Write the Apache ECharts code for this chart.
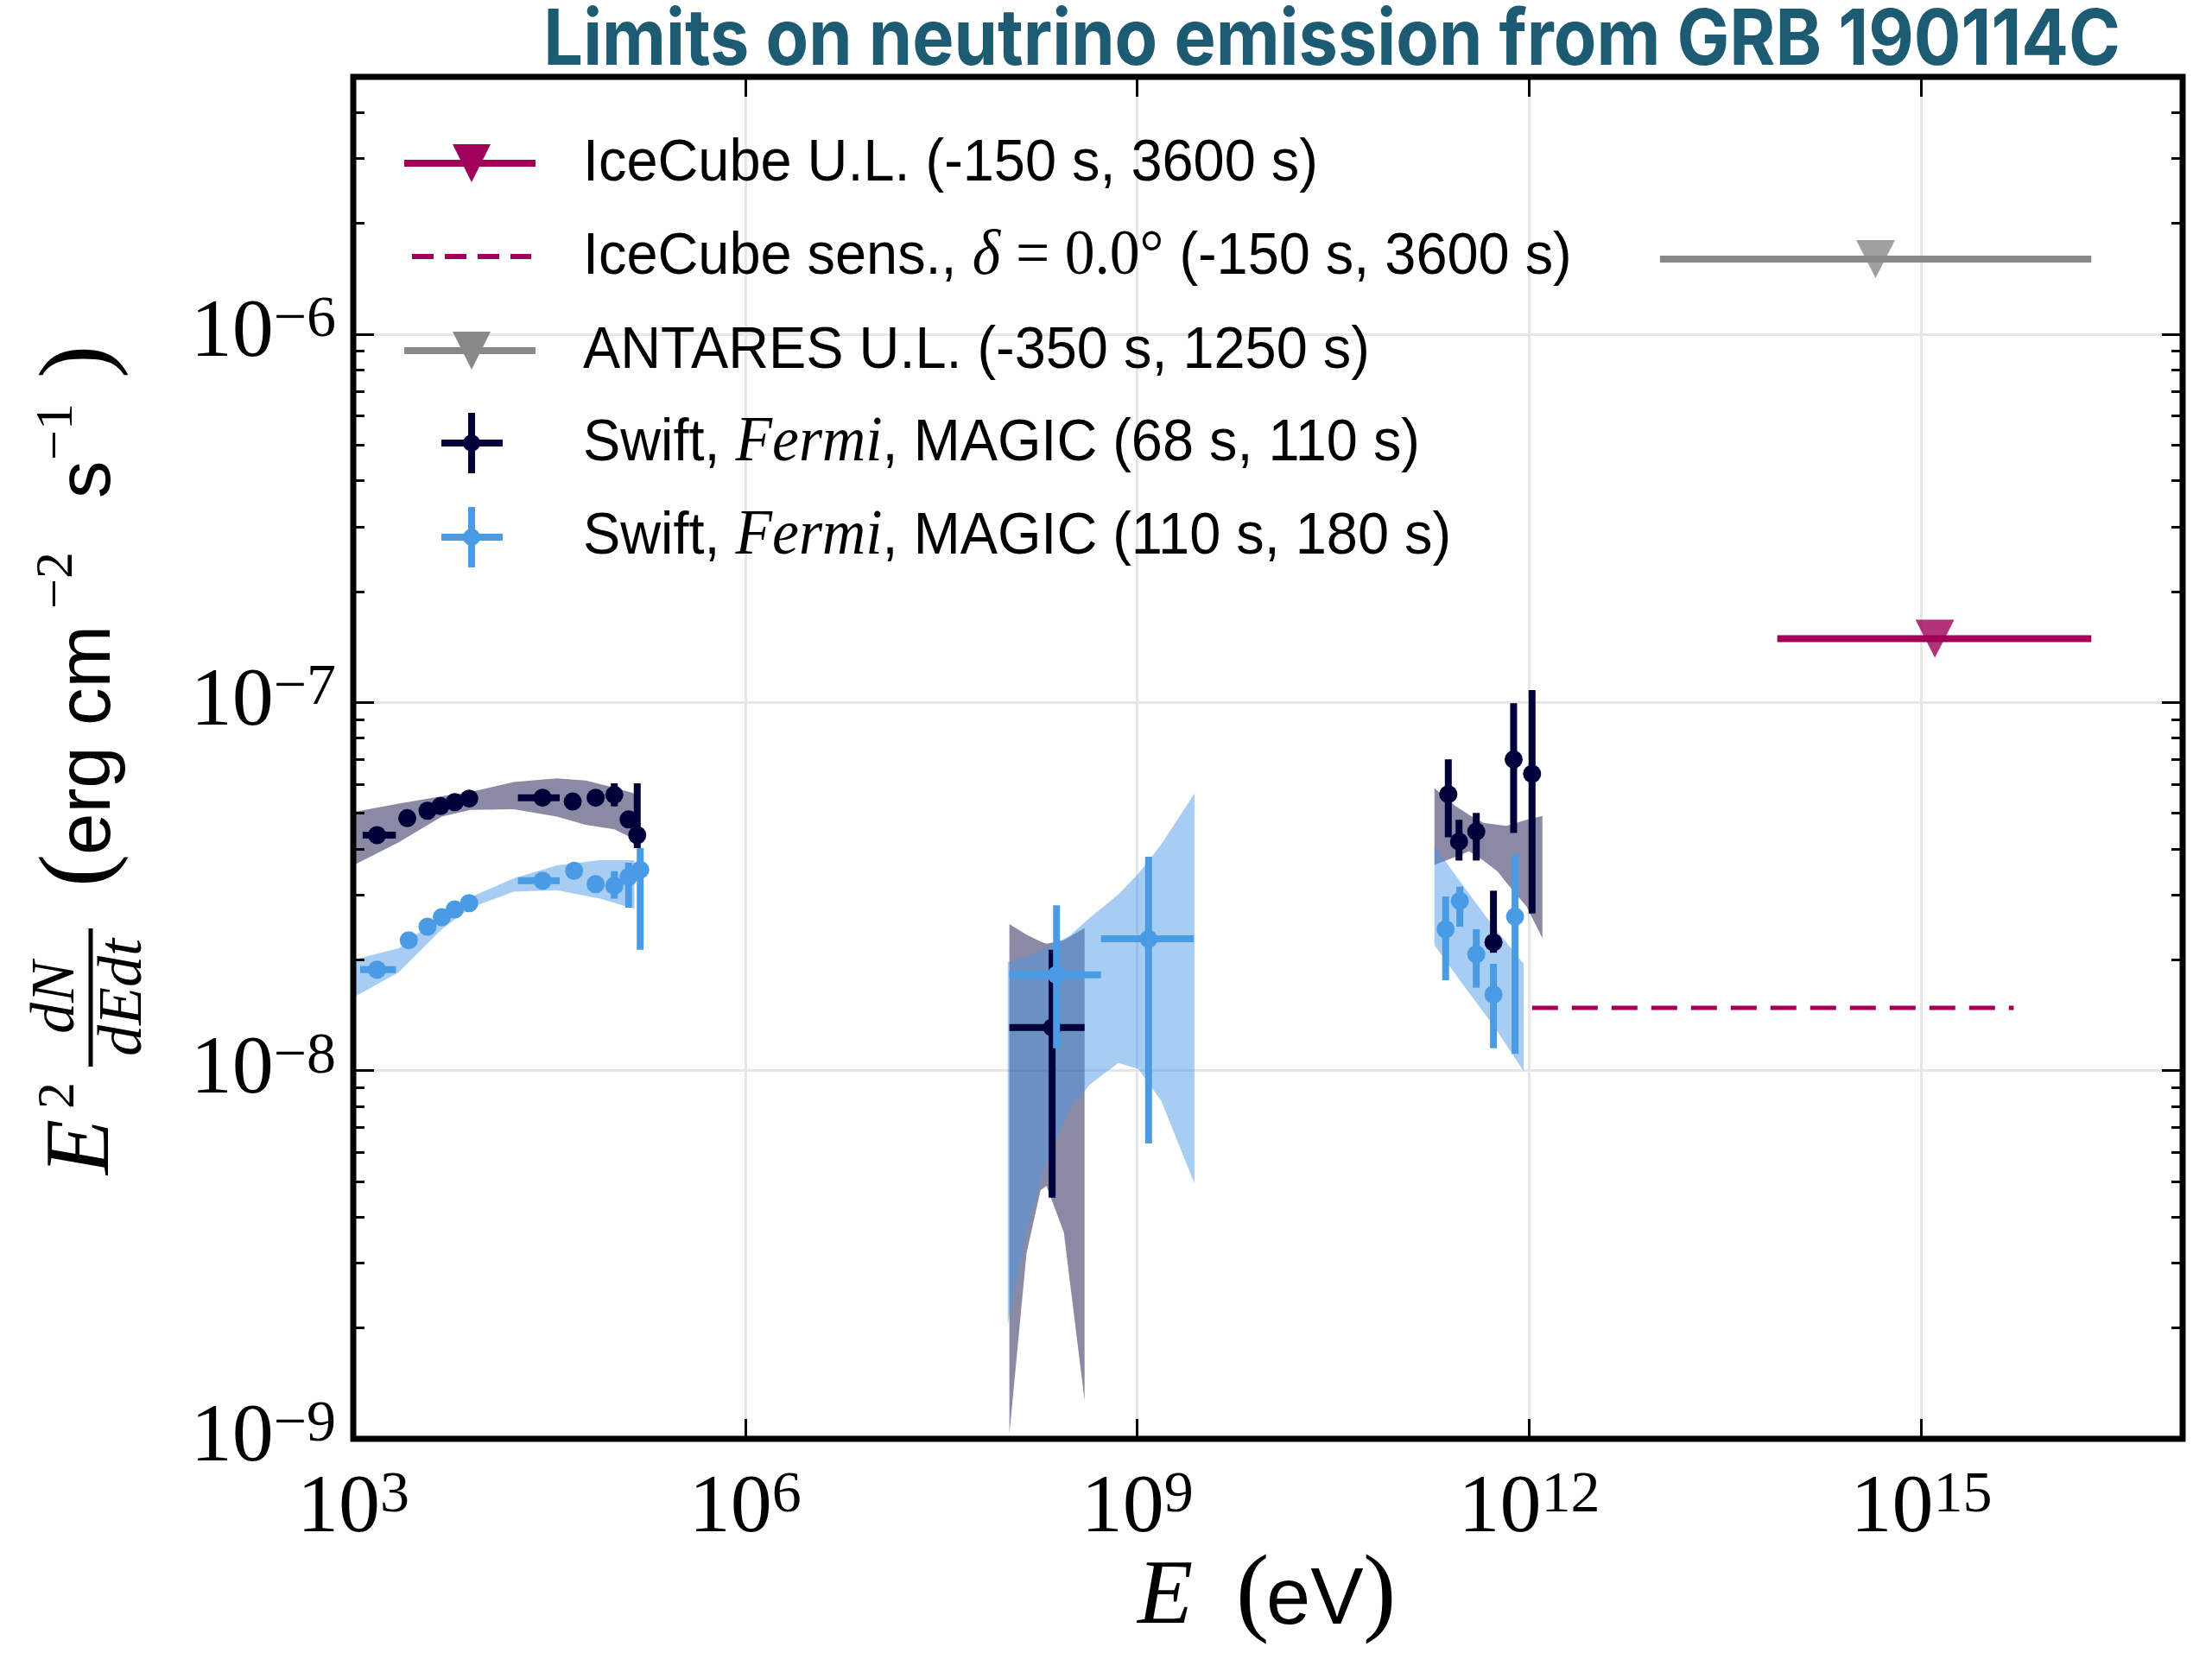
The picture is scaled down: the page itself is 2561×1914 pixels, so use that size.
<!DOCTYPE html>
<html><head><meta charset="utf-8">
<script src="https://cdn.jsdelivr.net/npm/echarts@6/dist/echarts.min.js"></script>
<style>html,body{margin:0;padding:0;background:#fff}#c{width:2561px;height:1914px}</style>
</head><body><div id="c"></div>
<script>
// ---------- tick values ----------
const xTicks = [1e3, 1e6, 1e9, 1e12, 1e15];
const yTicks = [1e-9, 1e-8, 1e-7, 1e-6];
const yMinorTicks = [2e-9,3e-9,4e-9,5e-9,6e-9,7e-9,8e-9,9e-9,
                     2e-8,3e-8,4e-8,5e-8,6e-8,7e-8,8e-8,9e-8,
                     2e-7,3e-7,4e-7,5e-7,6e-7,7e-7,8e-7,9e-7,
                     2e-6,3e-6,4e-6];

// ---------- Swift, Fermi, MAGIC (68 s, 110 s) ----------
const p68E   = [1.52e3, 2.59e3, 3.70e3, 4.65e3, 5.98e3, 7.71e3, 2.81e4, 4.78e4, 7.16e4, 9.95e4, 1.28e5, 1.49e5, 2.23e8, 2.40e11, 2.90e11, 3.93e11, 5.32e11, 7.59e11, 1.05e12];
const p68F   = [4.36e-8, 4.85e-8, 5.08e-8, 5.23e-8, 5.36e-8, 5.48e-8, 5.51e-8, 5.38e-8, 5.51e-8, 5.61e-8, 4.81e-8, 4.36e-8, 1.31e-8, 5.63e-8, 4.19e-8, 4.46e-8, 2.23e-8, 7.0e-8, 6.4e-8];
const p68ELo = [1.18e3, null, null, null, null, null, 1.82e4, null, null, null, null, null, 1.05e8, null, null, null, null, null, null];
const p68EHi = [2.12e3, null, null, null, null, null, 3.80e4, null, null, null, null, null, 3.95e8, null, null, null, null, null, null];
const p68FLo = [null, null, null, null, null, null, null, null, null, 5.22e-8, null, 4.02e-8, 4.52e-9, 4.3e-8, 3.72e-8, 3.72e-8, 2.09e-8, 4.42e-8, 2.67e-8];
const p68FHi = [null, null, null, null, null, null, null, null, null, 6.03e-8, null, 6.03e-8, 2.13e-8, 7.0e-8, 4.80e-8, 5.01e-8, 3.08e-8, 9.95e-8, 1.08e-7];

// ---------- Swift, Fermi, MAGIC (110 s, 180 s) ----------
const p110E   = [1.52e3, 2.66e3, 3.70e3, 4.76e3, 5.98e3, 7.71e3, 2.81e4, 4.90e4, 7.16e4, 9.95e4, 1.28e5, 1.57e5, 2.41e8, 1.22e9, 2.29e11, 2.94e11, 3.93e11, 5.32e11, 7.78e11];
const p110F   = [1.88e-8, 2.26e-8, 2.46e-8, 2.61e-8, 2.74e-8, 2.85e-8, 3.28e-8, 3.49e-8, 3.21e-8, 3.18e-8, 3.36e-8, 3.51e-8, 1.82e-8, 2.28e-8, 2.42e-8, 2.89e-8, 2.07e-8, 1.61e-8, 2.62e-8];
const p110ELo = [1.13e3, null, null, null, null, null, 1.82e4, null, null, null, null, null, 1.05e8, 5.28e8, null, null, null, null, null];
const p110EHi = [2.12e3, null, null, null, null, null, 3.80e4, null, null, null, null, null, 5.28e8, 2.70e9, null, null, null, null, null];
const p110FLo = [null, null, null, null, null, null, null, null, null, 2.93e-8, 2.77e-8, 2.13e-8, 1.15e-8, 6.34e-9, 1.76e-8, 2.46e-8, 1.68e-8, 1.15e-8, 1.11e-8];
const p110FHi = [null, null, null, null, null, null, null, null, null, 3.48e-8, 3.67e-8, 4.02e-8, 2.81e-8, 3.81e-8, 2.97e-8, 3.16e-8, 2.42e-8, 1.95e-8, 3.86e-8];

// ---------- model bands (68 s, 110 s) ----------
const b68XE = [1e3, 2.23e3, 4.76e3, 7.91e3, 1.69e4, 3.61e4, 6.0e4, 9.95e4, 1.42e5];
const b68XU = [5.04e-8, 5.31e-8, 5.56e-8, 5.71e-8, 6.08e-8, 6.22e-8, 6.14e-8, 5.87e-8, 5.66e-8];
const b68XL = [3.61e-8, 4.17e-8, 4.90e-8, 5.11e-8, 5.13e-8, 4.90e-8, 4.65e-8, 4.52e-8, 4.25e-8];
const b68LE = [1.05e8, 1.42e8, 1.82e8, 2.02e8, 2.74e8, 3.95e8];
const b68LU = [2.50e-8, 2.34e-8, 2.24e-8, 2.21e-8, 2.26e-8, 2.44e-8];
const b68LL = [1.03e-9, 3.19e-9, 4.74e-9, 4.86e-9, 3.64e-9, 1.27e-9];
const b68ME = [1.88e11, 2.69e11, 3.46e11, 4.46e11, 5.74e11, 6.68e11, 9.53e11, 1.26e12];
const b68MU = [5.85e-8, 5.25e-8, 4.95e-8, 4.71e-8, 4.65e-8, 4.62e-8, 4.80e-8, 4.92e-8];
const b68ML = [3.62e-8, 3.80e-8, 3.94e-8, 3.72e-8, 3.47e-8, 3.24e-8, 2.79e-8, 2.29e-8];

// ---------- model bands (110 s, 180 s) ----------
const b110XE = [1e3, 2.23e3, 4.76e3, 7.91e3, 1.69e4, 3.61e4, 7.73e4, 1.42e5];
const b110XU = [2.00e-8, 2.15e-8, 2.65e-8, 2.96e-8, 3.33e-8, 3.61e-8, 3.73e-8, 3.73e-8];
const b110XL = [1.58e-8, 1.85e-8, 2.42e-8, 2.77e-8, 3.06e-8, 3.09e-8, 2.93e-8, 2.75e-8];
const b110LE = [1.02e8, 1.42e8, 2.02e8, 3.03e8, 4.32e8, 7.16e8, 1.02e9, 1.53e9, 2.74e9];
const b110LU = [1.97e-8, 2.04e-8, 2.16e-8, 2.32e-8, 2.60e-8, 3.01e-8, 3.43e-8, 4.12e-8, 5.66e-8];
const b110LL = [2.04e-9, 3.64e-9, 5.70e-9, 7.83e-9, 9.16e-9, 1.05e-8, 1.01e-8, 8.26e-9, 4.93e-9];
const b110ME = [1.88e11, 3.16e11, 5.37e11, 9.06e11];
const b110MU = [4.07e-8, 3.16e-8, 2.45e-8, 1.95e-8];
const b110ML = [2.19e-8, 1.70e-8, 1.32e-8, 9.95e-9];

// ---------- neutrino limits ----------
const antaresE = [1.0e13, 2.0e16];
const antaresF = [1.60e-6, 1.60e-6];
const antaresMarkE = [4.47e14];
const icecubeE = [7.9e13, 2.0e16];
const icecubeF = [1.49e-7, 1.49e-7];
const icecubeMarkE = [1.27e15];
const sensE = [1.05e12, 5.1e15];
const sensF = [1.48e-8, 1.48e-8];

// ---------- colours ----------
const C_MAG = '#a0005a', C_GRAY = '#888888', C_NAVY = '#00003a', C_LIGHT = '#4a9be6';
const C_BAND_D = 'rgba(0,0,58,0.46)', C_BAND_L = 'rgba(74,150,230,0.48)';

const chart = echarts.init(document.getElementById('c'), null, {renderer: 'canvas'});

function expLabel(v) {
  const e = Math.round(Math.log10(v));
  return '{b|10}{s|' + (e < 0 ? '\u2212' + Math.abs(e) : e) + '}';
}
const labelRich = {
  b: {fontFamily: 'Liberation Serif', fontSize: 96, lineHeight: 100, color: '#000'},
  s: {fontFamily: 'Liberation Serif', fontSize: 68, lineHeight: 44, verticalAlign: 'top', color: '#000'}
};

function bandSeries(name, E, U, L, color) {
  return {
    type: 'custom', name: name, xAxisIndex: 0, yAxisIndex: 0, silent: true,
    data: E.map((e, i) => [e, U[i]]),
    encode: {x: 0, y: 1},
    renderItem: function (params, api) {
      if (params.dataIndex !== 0) return null;
      const pts = [];
      for (let i = 0; i < E.length; i++) pts.push(api.coord([E[i], U[i]]));
      for (let i = E.length - 1; i >= 0; i--) pts.push(api.coord([E[i], L[i]]));
      return {type: 'polygon', shape: {points: pts}, style: {fill: color}};
    }
  };
}

function errSeries(name, E, F, ELo, EHi, FLo, FHi, color) {
  return {
    type: 'custom', name: name, xAxisIndex: 0, yAxisIndex: 0, silent: true,
    data: E.map((e, i) => [e, F[i]]),
    encode: {x: 0, y: 1},
    renderItem: function (params, api) {
      const i = params.dataIndex;
      const c = api.coord([E[i], F[i]]);
      const ch = [];
      if (ELo[i] != null) {
        const a = api.coord([ELo[i], F[i]]), b = api.coord([EHi[i], F[i]]);
        ch.push({type: 'line', shape: {x1: a[0], y1: a[1], x2: b[0], y2: b[1]}, style: {stroke: color, lineWidth: 8}});
      }
      if (FLo[i] != null) {
        const a = api.coord([E[i], FLo[i]]), b = api.coord([E[i], FHi[i]]);
        ch.push({type: 'line', shape: {x1: a[0], y1: a[1], x2: b[0], y2: b[1]}, style: {stroke: color, lineWidth: 8}});
      }
      ch.push({type: 'circle', shape: {cx: c[0], cy: c[1], r: 10.5}, style: {fill: color}});
      return {type: 'group', children: ch};
    }
  };
}

const tickStyle = {color: '#000', width: 3};
const gridLine = {show: true, lineStyle: {color: '#e6e6e6', width: 3}};
function tickAxis(extra) {
  return Object.assign({
    type: 'log', logBase: 10, z: 10,
    axisLine: {show: false, onZero: false},
    axisLabel: {show: false},
    splitLine: {show: false}
  }, extra);
}

const X_MIN = 1e3, X_MAX = 1e17, Y_MIN = 1e-9, Y_MAX = 5e-6;
const LEG_FONT = '69px Liberation Sans';
const LEG_RICH = {i: {fontFamily: 'Liberation Serif', fontStyle: 'italic', fontSize: 74, fill: '#000'},
                  m: {fontFamily: 'Liberation Serif', fontSize: 74, fill: '#000'}};
function legText(y, text) {
  return {type: 'text', z: 50, x: 675, y: y, scaleX: 0.94,
          style: {text: text, font: LEG_FONT, fill: '#000', textVerticalAlign: 'middle', rich: LEG_RICH}};
}

const option = {
  animation: false,
  backgroundColor: '#fff',
  grid: {left: 409, top: 89, width: 2118, height: 1577, show: false},
  xAxis: [
    {type: 'log', logBase: 10, min: X_MIN, max: X_MAX, position: 'bottom',
     axisLine: {show: false, onZero: false},
     axisTick: {show: false, customValues: xTicks},
     axisLabel: {customValues: xTicks, formatter: expLabel, rich: labelRich, margin: 32},
     splitLine: gridLine},
    tickAxis({min: X_MIN, max: X_MAX, position: 'bottom',
      axisTick: {show: true, inside: true, length: 23, lineStyle: tickStyle, customValues: xTicks}}),
    tickAxis({min: X_MIN, max: X_MAX, position: 'top',
      axisTick: {show: true, inside: true, length: 23, lineStyle: tickStyle, customValues: xTicks}})
  ],
  yAxis: [
    {type: 'log', logBase: 10, min: Y_MIN, max: Y_MAX, position: 'left',
     axisLine: {show: false, onZero: false},
     axisTick: {show: false, customValues: yTicks},
     axisLabel: {customValues: yTicks, formatter: expLabel, rich: labelRich, margin: 20},
     splitLine: gridLine},
    tickAxis({min: Y_MIN, max: Y_MAX, position: 'left',
      axisTick: {show: true, inside: true, length: 24, lineStyle: tickStyle, customValues: yTicks}}),
    tickAxis({min: Y_MIN, max: Y_MAX, position: 'left',
      axisTick: {show: true, inside: true, length: 13, lineStyle: tickStyle, customValues: yMinorTicks}}),
    tickAxis({min: Y_MIN, max: Y_MAX, position: 'right',
      axisTick: {show: true, inside: true, length: 24, lineStyle: tickStyle, customValues: yTicks}}),
    tickAxis({min: Y_MIN, max: Y_MAX, position: 'right',
      axisTick: {show: true, inside: true, length: 13, lineStyle: tickStyle, customValues: yMinorTicks}})
  ],
  series: [
    bandSeries('band68X', b68XE, b68XU, b68XL, C_BAND_D),
    bandSeries('band68L', b68LE, b68LU, b68LL, C_BAND_D),
    bandSeries('band68M', b68ME, b68MU, b68ML, C_BAND_D),
    bandSeries('band110X', b110XE, b110XU, b110XL, C_BAND_L),
    bandSeries('band110L', b110LE, b110LU, b110LL, C_BAND_L),
    bandSeries('band110M', b110ME, b110MU, b110ML, C_BAND_L),
    {type: 'line', name: 'IceCube sens.', xAxisIndex: 0, yAxisIndex: 0, silent: true,
     data: sensE.map((e, i) => [e, sensF[i]]), symbol: 'none',
     lineStyle: {color: C_MAG, width: 5, type: [30, 16]}},
    {type: 'line', name: 'ANTARES U.L.', xAxisIndex: 0, yAxisIndex: 0, silent: true,
     data: antaresE.map((e, i) => [e, antaresF[i]]), symbol: 'none',
     lineStyle: {color: C_GRAY, width: 8}},
    {type: 'scatter', name: 'ANTARES mark', xAxisIndex: 0, yAxisIndex: 0, silent: true,
     data: antaresMarkE.map(e => [e, antaresF[0]]), symbol: 'triangle', symbolRotate: 180,
     symbolSize: [45, 44], itemStyle: {color: C_GRAY}},
    {type: 'line', name: 'IceCube U.L.', xAxisIndex: 0, yAxisIndex: 0, silent: true,
     data: icecubeE.map((e, i) => [e, icecubeF[i]]), symbol: 'none',
     lineStyle: {color: C_MAG, width: 8}},
    {type: 'scatter', name: 'IceCube mark', xAxisIndex: 0, yAxisIndex: 0, silent: true,
     data: icecubeMarkE.map(e => [e, icecubeF[0]]), symbol: 'triangle', symbolRotate: 180,
     symbolSize: [45, 44], itemStyle: {color: C_MAG}},
    errSeries('Swift, Fermi, MAGIC (68 s, 110 s)', p68E, p68F, p68ELo, p68EHi, p68FLo, p68FHi, C_NAVY),
    errSeries('Swift, Fermi, MAGIC (110 s, 180 s)', p110E, p110F, p110ELo, p110EHi, p110FLo, p110FHi, C_LIGHT)
  ],
  graphic: [
    // frame
    {type: 'rect', silent: true, z: 100, shape: {x: 409, y: 89, width: 2118, height: 1577},
     style: {fill: null, stroke: '#000', lineWidth: 7}},
    // title
    {type: 'text', z: 100, x: 2455, y: 48, scaleX: 0.9,
     style: {text: 'Limits on neutrino emission from GRB 190114C', font: 'bold 90px Inter',
             fill: '#1c5b72', textAlign: 'right', textVerticalAlign: 'middle'}},
    // legend row 1
    {type: 'line', z: 50, shape: {x1: 468, y1: 189, x2: 620, y2: 189}, style: {stroke: C_MAG, lineWidth: 8}},
    {type: 'polygon', z: 50, shape: {points: [[524, 167], [568, 167], [546, 211]]}, style: {fill: C_MAG}},
    legText(190, 'IceCube U.L. (-150 s, 3600 s)'),
    // legend row 2
    {type: 'line', z: 50, shape: {x1: 477, y1: 297, x2: 615, y2: 297}, style: {stroke: C_MAG, lineWidth: 6, lineDash: [25, 13]}},
    legText(298, 'IceCube sens., {i|\u03b4} {m|= 0.0\u00b0} (-150 s, 3600 s)'),
    // legend row 3
    {type: 'line', z: 50, shape: {x1: 468, y1: 406, x2: 620, y2: 406}, style: {stroke: C_GRAY, lineWidth: 8}},
    {type: 'polygon', z: 50, shape: {points: [[524, 384], [568, 384], [546, 428]]}, style: {fill: C_GRAY}},
    legText(407, 'ANTARES U.L. (-350 s, 1250 s)'),
    // legend row 4
    {type: 'line', z: 50, shape: {x1: 546, y1: 478, x2: 546, y2: 548}, style: {stroke: C_NAVY, lineWidth: 8}},
    {type: 'line', z: 50, shape: {x1: 511, y1: 513, x2: 582, y2: 513}, style: {stroke: C_NAVY, lineWidth: 8}},
    {type: 'circle', z: 50, shape: {cx: 546, cy: 513, r: 10}, style: {fill: C_NAVY}},
    legText(514, 'Swift, {i|Fermi}, MAGIC (68 s, 110 s)'),
    // legend row 5
    {type: 'line', z: 50, shape: {x1: 546, y1: 587, x2: 546, y2: 657}, style: {stroke: C_LIGHT, lineWidth: 8}},
    {type: 'line', z: 50, shape: {x1: 511, y1: 622, x2: 582, y2: 622}, style: {stroke: C_LIGHT, lineWidth: 8}},
    {type: 'circle', z: 50, shape: {cx: 546, cy: 622, r: 10}, style: {fill: C_LIGHT}},
    legText(622, 'Swift, {i|Fermi}, MAGIC (110 s, 180 s)'),
    // y-axis title (rotated)
    {type: 'group', x: 0, y: 1360, rotation: Math.PI / 2, z: 50, children: [
      {type: 'text', x: 0, y: 97, style: {text: 'E', font: 'italic 105px Liberation Serif', fill: '#000', textAlign: 'left', textVerticalAlign: 'middle'}},
      {type: 'text', x: 76, y: 69, style: {text: '2', font: '62px Liberation Serif', fill: '#000', textAlign: 'left', textVerticalAlign: 'middle'}},
      {type: 'line', shape: {x1: 125, y1: 105, x2: 285, y2: 105}, style: {stroke: '#000', lineWidth: 5}},
      {type: 'text', x: 205, y: 66, style: {text: 'dN', font: 'italic 72px Liberation Serif', fill: '#000', textAlign: 'center', textVerticalAlign: 'middle'}},
      {type: 'text', x: 205, y: 144, style: {text: 'dEdt', font: 'italic 72px Liberation Serif', fill: '#000', textAlign: 'center', textVerticalAlign: 'middle'}},
      {type: 'text', x: 333, y: 94, style: {text: '(', font: '115px Liberation Serif', fill: '#000', textAlign: 'left', textVerticalAlign: 'middle'}},
      {type: 'text', x: 370, y: 103, style: {text: 'erg cm', font: '87px Liberation Sans', fill: '#000', textAlign: 'left', textVerticalAlign: 'middle'}},
      {type: 'text', x: 655, y: 67, style: {text: '\u22122', font: '62px Liberation Serif', fill: '#000', textAlign: 'left', textVerticalAlign: 'middle'}},
      {type: 'text', x: 783, y: 103, style: {text: 's', font: '87px Liberation Sans', fill: '#000', textAlign: 'left', textVerticalAlign: 'middle'}},
      {type: 'text', x: 827, y: 67, style: {text: '\u22121', font: '62px Liberation Serif', fill: '#000', textAlign: 'left', textVerticalAlign: 'middle'}},
      {type: 'text', x: 922, y: 94, style: {text: ')', font: '115px Liberation Serif', fill: '#000', textAlign: 'left', textVerticalAlign: 'middle'}}
    ]},
    // x-axis title
    {type: 'group', x: 0, y: 0, z: 50, children: [
      {type: 'text', x: 1317, y: 1851, style: {text: 'E', font: 'italic 105px Liberation Serif', fill: '#000', textAlign: 'left', textVerticalAlign: 'middle'}},
      {type: 'text', x: 1431, y: 1849, style: {text: '(', font: '115px Liberation Serif', fill: '#000', textAlign: 'left', textVerticalAlign: 'middle'}},
      {type: 'text', x: 1466, y: 1855, style: {text: 'eV', font: '92px Liberation Sans', fill: '#000', textAlign: 'left', textVerticalAlign: 'middle'}},
      {type: 'text', x: 1578, y: 1849, style: {text: ')', font: '115px Liberation Serif', fill: '#000', textAlign: 'left', textVerticalAlign: 'middle'}}
    ]}
  ]
};
chart.setOption(option);
</script></body></html>
